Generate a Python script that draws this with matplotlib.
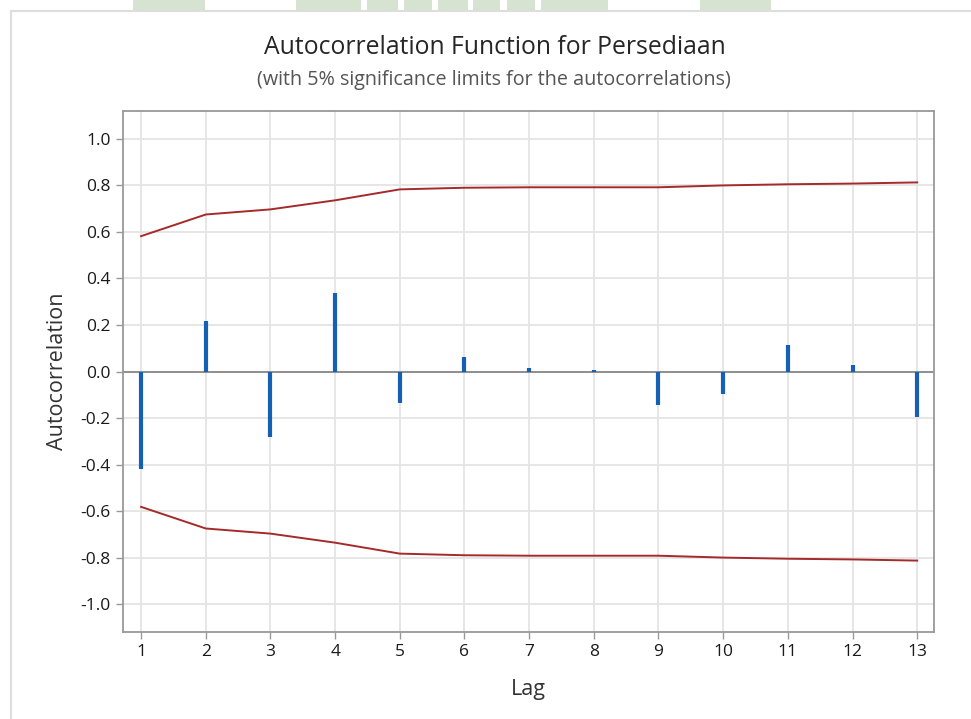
import matplotlib
matplotlib.use("Agg")
import matplotlib.pyplot as plt
from matplotlib.patches import Rectangle
from matplotlib.lines import Line2D

lags = list(range(1, 14))
acf = [-0.42, 0.215, -0.281, 0.336, -0.137, 0.064, 0.017, 0.005, -0.142, -0.095, 0.115, 0.03, -0.195]
upper = [0.582, 0.675, 0.697, 0.736, 0.783, 0.790, 0.792, 0.792, 0.792, 0.800, 0.805, 0.808, 0.813]
lower = [-u for u in upper]
yticks = [-1.0, -0.8, -0.6, -0.4, -0.2, 0.0, 0.2, 0.4, 0.6, 0.8, 1.0]

plt.rcParams['font.family'] = ['Open Sans', 'DejaVu Sans']

W, H = 971, 719
fig = plt.figure(figsize=(W / 100, H / 100), dpi=100)
fig.patch.set_facecolor('white')

# decorative header strips and outer frame from the screenshot
for x0, x1 in [(133, 205), (296, 361), (367, 398), (404, 432), (438, 468),
               (473, 500), (507, 535), (541, 608), (700, 771)]:
    fig.add_artist(Rectangle((x0 / W, 1 - 10 / H), (x1 - x0) / W, 10 / H,
                             transform=fig.transFigure, color='#d5e3d0', lw=0))
fig.add_artist(Line2D([11 / W, 1], [1 - 10.5 / H, 1 - 10.5 / H], transform=fig.transFigure,
                      color='#dddddd', lw=1.5))
fig.add_artist(Line2D([11 / W, 11 / W], [0, 1 - 10.5 / H], transform=fig.transFigure,
                      color='#dddddd', lw=1.5))

L, R, T, B = 123, 934, 111, 632
ax = fig.add_axes([L / W, 1 - B / H, (R - L) / W, (B - T) / H])

ax.set_xlim(0.72, 13.26)
ax.set_ylim(-1.12, 1.12)
ax.set_xticks(lags)
ax.set_yticks(yticks)
ax.set_yticklabels([f"{v:.1f}" for v in yticks])
ax.grid(True, color='#e4e4e4', lw=1.3)
ax.set_axisbelow(True)

ax.axhline(0, color='#888888', lw=1.3, zorder=2)
ax.vlines(lags, 0, acf, color='#1560b5', lw=3, zorder=3)
ax.plot(lags, upper, color='#a52a2a', lw=1.4, zorder=3)
ax.plot(lags, lower, color='#a52a2a', lw=1.4, zorder=3)

for s in ax.spines.values():
    s.set_color('#999999')
    s.set_linewidth(1.3)
ax.tick_params(axis='both', direction='out', length=5, width=1, color='#999999',
               labelsize=12.5, labelcolor='#1a1a1a', pad=4)

ax.set_xlabel('Lag', fontsize=15.5, color='#333333')
ax.set_ylabel('Autocorrelation', fontsize=15.5, color='#333333')
ax.xaxis.set_label_coords((528 - L) / (R - L), (B - 690) / (B - T))
ax.yaxis.set_label_coords((58 - L) / (R - L), (B - 371) / (B - T))
ax.xaxis.label.set_va('center')
ax.yaxis.label.set_va('center')

fig.text(495 / W, 1 - 47 / H, 'Autocorrelation Function for Persediaan', ha='center', va='center',
         fontsize=17.8, color='#262626')
fig.text(494 / W, 1 - 80 / H, '(with 5% significance limits for the autocorrelations)', ha='center',
         va='center', fontsize=14.2, color='#555555')

fig.savefig('out.png', dpi=100, facecolor='white')
